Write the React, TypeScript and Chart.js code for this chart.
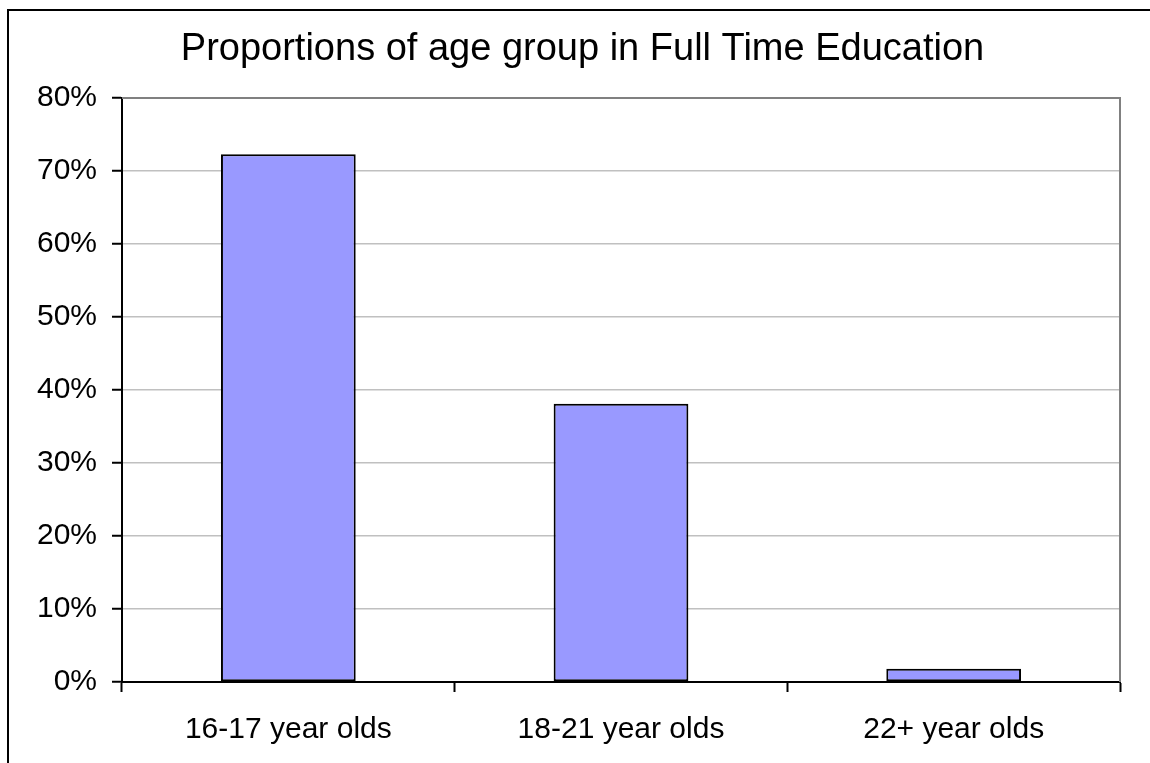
import React, { useEffect, useRef } from "react";
import { Chart, registerables } from "chart.js";

Chart.register(...registerables);

const TITLE = "Proportions of age group in Full Time Education";
const categories = ["16-17 year olds", "18-21 year olds", "22+ year olds"];
const proportions = [72.3, 38.1, 1.8];
const yMax = 80;
const yStep = 10;

const FONT = "'Liberation Sans', Arial, sans-serif";

const framePlugin = {
  id: "frame",
  afterDraw(chart: any) {
    const { ctx, chartArea } = chart;
    const { left, right, top, bottom } = chartArea;
    ctx.save();
    // plot area top and right border
    ctx.strokeStyle = "#808080";
    ctx.lineWidth = 2;
    ctx.beginPath();
    ctx.moveTo(left, top);
    ctx.lineTo(right, top);
    ctx.lineTo(right, bottom);
    ctx.stroke();
    // outer chart border
    ctx.strokeStyle = "#000000";
    ctx.lineWidth = 2;
    ctx.beginPath();
    ctx.moveTo(8, chart.height + 5);
    ctx.lineTo(8, 10);
    ctx.lineTo(chart.width + 5, 10);
    ctx.stroke();
    // title
    ctx.fillStyle = "#000000";
    ctx.font = `38px ${FONT}`;
    ctx.textAlign = "center";
    ctx.textBaseline = "alphabetic";
    ctx.fillText(TITLE, 582.5, 60);
    ctx.restore();
  },
};

export default function App() {
  const ref = useRef<HTMLCanvasElement | null>(null);
  useEffect(() => {
    if (!ref.current) return;
    const chart = new Chart(ref.current, {
      type: "bar",
      data: {
        labels: categories,
        datasets: [
          {
            data: proportions,
            backgroundColor: "#9999FF",
            borderColor: "#000000",
            borderWidth: 2,
            borderSkipped: false,
            barPercentage: 0.405,
            categoryPercentage: 1,
          },
        ],
      },
      options: {
        animation: false,
        responsive: false,
        maintainAspectRatio: false,
        layout: { padding: { left: 8, right: 30, top: 98, bottom: 11 } },
        plugins: {
          legend: { display: false },
          title: { display: false },
          tooltip: { enabled: false },
        },
        scales: {
          x: {
            offset: true,
            grid: {
              offset: true,
              drawOnChartArea: false,
              drawTicks: true,
              tickLength: 10,
              tickColor: "#000000",
              tickWidth: 2,
            },
            border: { color: "#000000", width: 2 },
            ticks: {
              color: "#000000",
              font: { family: FONT, size: 30 },
              padding: 20,
              maxRotation: 0,
              autoSkip: false,
            },
            afterFit: (scale: any) => {
              scale.height = 70;
            },
          },
          y: {
            min: 0,
            max: yMax,
            grid: {
              color: (c: any) =>
                c.tick && c.tick.value === 0 ? "rgba(0,0,0,0)" : "#c0c0c0",
              lineWidth: 1.5,
              drawTicks: true,
              tickLength: 10,
              tickColor: "#000000",
              tickWidth: 2,
            },
            border: { color: "#000000", width: 2 },
            ticks: {
              stepSize: yStep,
              color: "#000000",
              font: { family: FONT, size: 30 },
              padding: 15,
              callback: (v: any) => `${v}%`,
            },
            afterFit: (scale: any) => {
              scale.width = 114;
            },
          },
        },
      },
      plugins: [framePlugin],
    });
    return () => chart.destroy();
  }, []);

  return (
    <div
      style={{
        position: "fixed",
        left: 0,
        top: 0,
        width: 1150,
        height: 763,
        overflow: "hidden",
        background: "#ffffff",
      }}
    >
      <canvas ref={ref} width={1150} height={763} style={{ display: "block" }} />
    </div>
  );
}
